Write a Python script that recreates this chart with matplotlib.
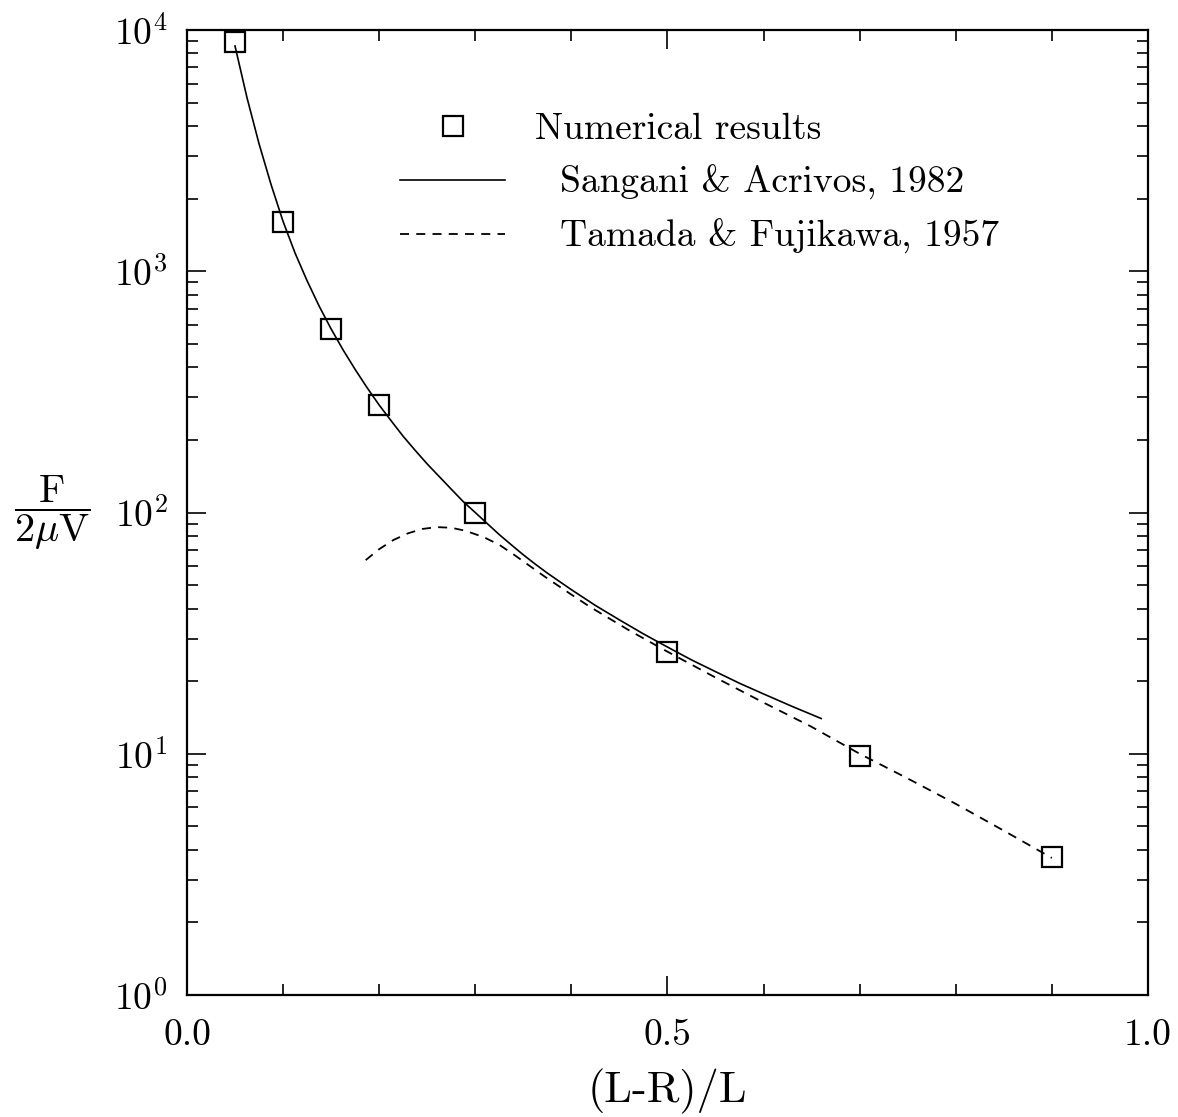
import numpy as np
import matplotlib
matplotlib.use("Agg")
import matplotlib.pyplot as plt
from matplotlib.ticker import FixedLocator, NullFormatter, LogLocator

plt.rcParams['font.family'] = ['cmr10', 'DejaVu Serif']
plt.rcParams['mathtext.fontset'] = 'cm'
plt.rcParams['axes.unicode_minus'] = False
plt.rcParams['axes.formatter.use_mathtext'] = True

# numerical results (squares)
num_x = [0.05, 0.1, 0.15, 0.2, 0.3, 0.5, 0.7, 0.9]
num_y = [8900, 1600, 577, 279, 100, 26.4, 9.8, 3.73]

# Sangani & Acrivos, 1982 (solid)
sa_x = [0.05, 0.0625, 0.075, 0.0875, 0.1, 0.1125, 0.125, 0.1375, 0.15,
        0.1625, 0.175, 0.1875, 0.2, 0.2125, 0.225, 0.2375, 0.25, 0.2625,
        0.275, 0.2875, 0.3, 0.3125, 0.325, 0.3375, 0.35, 0.3625, 0.375,
        0.4, 0.425, 0.45, 0.475, 0.5, 0.525, 0.55, 0.575, 0.6, 0.63, 0.66]
sa_y = [8590, 5240, 3380, 2290, 1610, 1190, 914, 718, 577,
        472, 392, 329, 279, 240, 207, 181, 159, 141,
        125, 111, 100, 90, 81, 73.5, 66.8, 61.1, 56.1,
        47.9, 41.2, 35.9, 31.4, 27.7, 24.5, 21.9, 19.6, 17.7, 15.7, 14.0]

# Tamada & Fujikawa, 1957 (dashed)
tf_x = [0.186, 0.2, 0.215, 0.23, 0.245, 0.26, 0.275, 0.29, 0.309, 0.325,
        0.34, 0.373, 0.4, 0.42, 0.46, 0.497, 0.55, 0.6, 0.649, 0.7,
        0.75, 0.8, 0.85, 0.9]
tf_y = [63.5, 70.5, 77, 82, 85.5, 87, 86.5, 84, 79, 73.5,
        67, 54, 45.7, 40.5, 32.5, 26.9, 20.7, 16.3, 13.0, 10.0,
        7.9, 6.2, 4.8, 3.7]

fig = plt.figure(figsize=(11.78, 11.17), dpi=100)
ax = fig.add_axes([0.1587, 0.1092, 0.8158, 0.8639])

ax.plot(sa_x, sa_y, color='black', lw=1.2, label='  Sangani & Acrivos, 1982')
ax.plot(tf_x, tf_y, color='black', lw=1.3, ls=(0, (5, 4)),
        label='  Tamada & Fujikawa, 1957')
ax.plot(num_x, num_y, ls='none', marker='s', ms=14, mfc='none', mec='black',
        mew=1.6, label='Numerical results')

ax.set_yscale('log')
ax.set_xlim(0, 1)
ax.set_ylim(1, 1e4)

ax.xaxis.set_major_locator(FixedLocator([0.0, 0.5, 1.0]))
ax.xaxis.set_minor_locator(FixedLocator(np.arange(0.1, 1.0, 0.1)))
ax.set_xticklabels(['0.0', '0.5', '1.0'])
ax.yaxis.set_major_locator(LogLocator(base=10, numticks=10))
ax.yaxis.set_minor_locator(LogLocator(base=10, subs=np.arange(2, 10), numticks=20))
ax.yaxis.set_minor_formatter(NullFormatter())

ax.tick_params(which='both', direction='in', top=True, right=True,
               labelsize=27, width=1.2)
ax.tick_params(which='major', length=14)
ax.tick_params(which='minor', length=8)
ax.tick_params(axis='y', which='major', pad=14)
ax.tick_params(axis='x', which='major', pad=17)
for s in ax.spines.values():
    s.set_linewidth(1.6)

ax.set_xlabel('(L-R)/L', fontsize=32, labelpad=12)
ax.set_ylabel(r'$\dfrac{\mathrm{F}}{2\mu\mathrm{V}}$', fontsize=29,
              rotation=0, va='center', ha='center')
ax.yaxis.set_label_coords(-0.14, 0.5)

h, l = ax.get_legend_handles_labels()
order = [2, 0, 1]
ax.legend([h[i] for i in order], [l[i] for i in order], loc='upper left',
          bbox_to_anchor=(0.222, 0.914), frameon=False, fontsize=27,
          handlelength=2.8, handletextpad=0.8, labelspacing=0.5,
          borderaxespad=0, borderpad=0)

fig.savefig('out.png', dpi=100)
